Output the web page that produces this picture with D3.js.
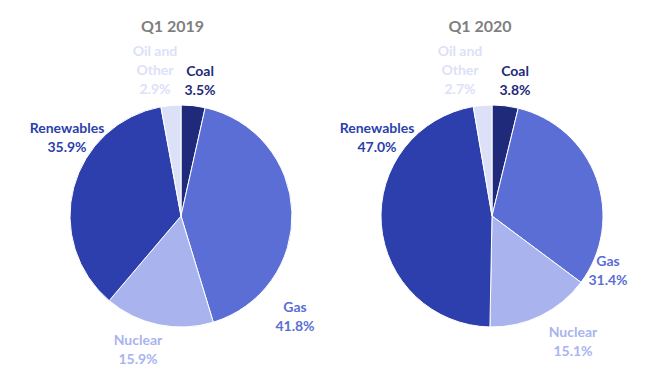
<!DOCTYPE html>
<html><head><meta charset="utf-8">
<script src="https://cdn.jsdelivr.net/npm/d3@7"></script>
<style>html,body{margin:0;padding:0;background:#fff;} svg{display:block;}</style>
</head><body>
<svg id="chart" width="645" height="372"></svg>
<script>
const categories = ["Coal", "Gas", "Nuclear", "Renewables", "Oil and Other"];
const labelLines = [["Coal"], ["Gas"], ["Nuclear"], ["Renewables"], ["Oil and", "Other"]];
const titles = ["Q1 2019", "Q1 2020"];
const values2019 = [3.5, 41.8, 15.9, 35.9, 2.9];
const values2020 = [3.8, 31.4, 15.1, 47.0, 2.7];
const colors = ["#1f2a7a", "#5b6ed6", "#a9b4ef", "#2c3fac", "#dce1f8"];

// layout
const pies = [
  {values: values2019, title: titles[0], cx: 181, cy: 216, r: 111, titleX: 172.5,
   labels: [[200, 70], [295, 306], [138, 339], [67, 127], [155, 50]]},
  {values: values2020, title: titles[1], cx: 492, cy: 216, r: 111, titleX: 480,
   labels: [[515, 70], [608, 260], [573, 331], [377, 127], [460, 50]]}
];
const lineH = 19;
const font = "Lato, 'Open Sans', sans-serif";

const svg = d3.select("#chart");
const color = d3.scaleOrdinal().domain(categories).range(colors);
const pie = d3.pie().sort(null).value(d => d.v);

pies.forEach(p => {
  const data = categories.map((c, i) => ({c, v: p.values[i], i}));
  const arc = d3.arc().innerRadius(0).outerRadius(p.r);
  const g = svg.append("g").attr("transform", `translate(${p.cx},${p.cy})`);
  g.selectAll("path").data(pie(data)).join("path")
    .attr("d", arc)
    .attr("fill", d => color(d.data.c))
    .attr("stroke", "#fff")
    .attr("stroke-width", 1);

  svg.append("text").attr("x", p.titleX).attr("y", 25)
    .attr("text-anchor", "middle").attr("dominant-baseline", "central")
    .attr("font-family", font).attr("font-weight", "bold").attr("font-size", 16)
    .attr("fill", "#7f7f7f").text(p.title);

  data.forEach((d, i) => {
    const [lx, ly] = p.labels[i];
    const lines = labelLines[i].concat([d.v.toFixed(1) + "%"]);
    const t = svg.append("text")
      .attr("text-anchor", "middle")
      .attr("font-family", font).attr("font-weight", "bold").attr("font-size", 14)
      .attr("fill", color(d.c));
    lines.forEach((ln, k) => {
      t.append("tspan").attr("x", lx).attr("y", ly + k * lineH)
        .attr("dominant-baseline", "central").text(ln);
    });
  });
});
</script>
</body></html>
